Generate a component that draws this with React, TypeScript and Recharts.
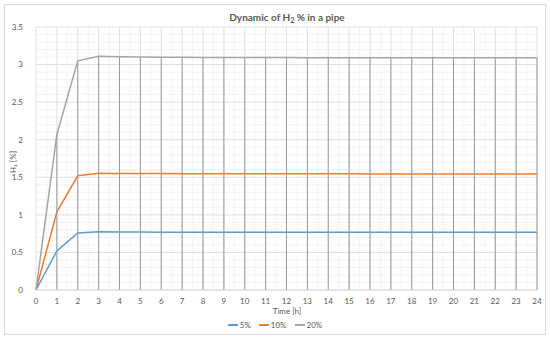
import React from "react";
import { LineChart, Line, XAxis, YAxis, CartesianGrid, ErrorBar } from "recharts";

const hours = [0, 1, 2, 3, 4, 5, 6, 7, 8, 9, 10, 11, 12, 13, 14, 15, 16, 17, 18, 19, 20, 21, 22, 23, 24];
const h2at5 = [0, 0.52, 0.76, 0.775, 0.772, 0.771, 0.77, 0.77, 0.77, 0.77, 0.77, 0.77, 0.77, 0.77, 0.77, 0.77, 0.77, 0.77, 0.77, 0.77, 0.77, 0.77, 0.77, 0.77, 0.77];
const h2at10 = [0, 1.04, 1.52, 1.555, 1.552, 1.55, 1.549, 1.548, 1.548, 1.547, 1.547, 1.547, 1.546, 1.546, 1.546, 1.546, 1.545, 1.545, 1.545, 1.545, 1.545, 1.545, 1.545, 1.545, 1.545];
const h2at20 = [0, 2.07, 3.05, 3.11, 3.105, 3.1, 3.098, 3.096, 3.095, 3.094, 3.094, 3.093, 3.093, 3.092, 3.092, 3.092, 3.091, 3.091, 3.091, 3.091, 3.09, 3.09, 3.09, 3.09, 3.09];

const yTicks = [0, 0.5, 1, 1.5, 2, 2.5, 3, 3.5];
const yMinor = [0.1, 0.2, 0.3, 0.4, 0.6, 0.7, 0.8, 0.9, 1.1, 1.2, 1.3, 1.4, 1.6, 1.7, 1.8, 1.9, 2.1, 2.2, 2.3, 2.4, 2.6, 2.7, 2.8, 2.9, 3.1, 3.2, 3.3, 3.4];
const xMinor = [0.5, 1.5, 2.5, 3.5, 4.5, 5.5, 6.5, 7.5, 8.5, 9.5, 10.5, 11.5, 12.5, 13.5, 14.5, 15.5, 16.5, 17.5, 18.5, 19.5, 20.5, 21.5, 22.5, 23.5];

const seriesNames = ["5%", "10%", "20%"];
const seriesColors = ["#5b9bd5", "#ed7d31", "#a5a5a5"];

const data = hours.map((h, i) => ({
  t: h,
  s5: h2at5[i],
  s10: h2at10[i],
  s20: h2at20[i],
  drop: [h2at20[i], 0],
}));

const font = "Lato, 'Open Sans', sans-serif";
const tickStyle = { fontSize: 8, fill: "#595959", fontFamily: font };

export default function App() {
  return (
    <div style={{ position: "absolute", left: 0, top: 0, width: 550, height: 340, background: "#fff" }}>
      <div
        style={{
          position: "absolute",
          left: 4,
          top: 4,
          width: 540,
          height: 329,
          border: "1px solid #d9d9d9",
        }}
      />
      <LineChart
        width={550}
        height={340}
        data={data}
        margin={{ top: 27, right: 13, left: 6, bottom: 30 }}
        style={{ position: "absolute", left: 0, top: 0, fontFamily: font }}
      >
        <CartesianGrid stroke="#f3f3f3" horizontalValues={yMinor} verticalValues={xMinor} />
        <CartesianGrid stroke="#e0e0e0" horizontalValues={yTicks} verticalValues={hours} />
        <XAxis
          dataKey="t"
          type="number"
          domain={[0, 24]}
          ticks={hours}
          interval={0}
          axisLine={{ stroke: "#d9d9d9" }}
          tickLine={false}
          tick={tickStyle}
          tickMargin={2}
          height={20}
        />
        <YAxis
          type="number"
          domain={[0, 3.5]}
          ticks={yTicks}
          interval={0}
          axisLine={false}
          tickLine={false}
          tick={tickStyle}
          tickMargin={7}
          width={30}
        />
        <Line dataKey="s5" name="5%" stroke={seriesColors[0]} strokeWidth={1.5} dot={false} isAnimationActive={false} />
        <Line dataKey="s10" name="10%" stroke={seriesColors[1]} strokeWidth={1.5} dot={false} isAnimationActive={false} />
        <Line dataKey="s20" name="20%" stroke={seriesColors[2]} strokeWidth={1.5} dot={false} isAnimationActive={false}>
          <ErrorBar dataKey="drop" direction="y" width={0} stroke="#9a9a9a" strokeWidth={1} isAnimationActive={false} />
        </Line>
        <text x={287} y={21} textAnchor="middle" fontSize={10} fontWeight="bold" fill="#595959" fontFamily={font}>
          Dynamic of H<tspan fontSize={7} dy={2}>2</tspan>
          <tspan dy={-2}> % in a pipe</tspan>
        </text>
        <text x={287} y={314} textAnchor="middle" fontSize={8} fill="#595959" fontFamily={font}>
          Time [h]
        </text>
        <g transform="translate(16 162) rotate(-90)">
          <text x={0} y={0} textAnchor="middle" fontSize={8} fill="#595959" fontFamily={font}>
            H₂ [%]
          </text>
        </g>
      </LineChart>
      <div
        style={{
          position: "absolute",
          left: 0,
          width: 550,
          top: 320,
          display: "flex",
          justifyContent: "center",
          gap: 8,
          fontSize: 8,
          color: "#595959",
          fontFamily: font,
        }}
      >
        {seriesNames.map((n, i) => (
          <span key={n} style={{ display: "inline-flex", alignItems: "center" }}>
            <span style={{ display: "inline-block", width: 10, height: 2, background: seriesColors[i], marginRight: 2 }} />
            {n}
          </span>
        ))}
      </div>
    </div>
  );
}
